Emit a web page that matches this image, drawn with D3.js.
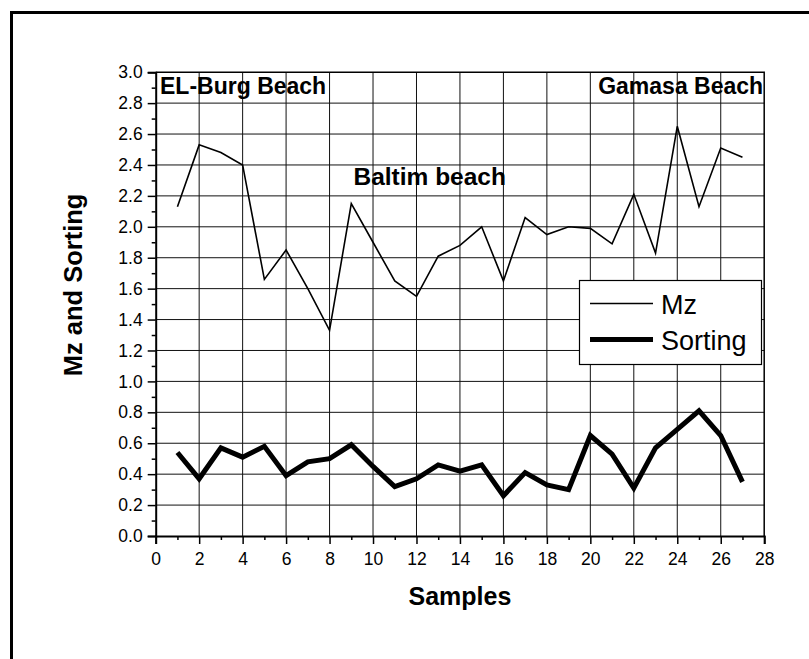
<!DOCTYPE html>
<html>
<head>
<meta charset="utf-8">
<script src="https://cdn.jsdelivr.net/npm/d3@7"></script>
<style>
  html, body { margin: 0; padding: 0; background: #fff; }
  svg { display: block; font-family: "Liberation Sans", Arial, sans-serif; }
</style>
</head>
<body>
<svg id="chart" width="809" height="659"></svg>
<script>
const samples = [1,2,3,4,5,6,7,8,9,10,11,12,13,14,15,16,17,18,19,20,21,22,23,24,25,26,27];
const mz = [2.13,2.53,2.48,2.40,1.66,1.85,1.60,1.33,2.15,1.90,1.65,1.55,1.81,1.88,2.00,1.65,2.06,1.95,2.00,1.99,1.89,2.21,1.83,2.65,2.13,2.51,2.45];
const sorting = [0.54,0.37,0.57,0.51,0.58,0.39,0.48,0.50,0.59,0.45,0.32,0.37,0.46,0.42,0.46,0.26,0.41,0.33,0.30,0.65,0.53,0.31,0.57,0.69,0.81,0.65,0.35];
const xTicks = [0,2,4,6,8,10,12,14,16,18,20,22,24,26,28];
const xMinorTicks = [1,3,5,7,9,11,13,15,17,19,21,23,25,27];
const yTicks = [0,0.2,0.4,0.6,0.8,1.0,1.2,1.4,1.6,1.8,2.0,2.2,2.4,2.6,2.8,3.0];
const yMinorTicks = [0.1,0.3,0.5,0.7,0.9,1.1,1.3,1.5,1.7,1.9,2.1,2.3,2.5,2.7,2.9];
const seriesNames = ["Mz", "Sorting"];
const annotations = [
  {text: "EL-Burg Beach", x: 0.2, y: 2.86, anchor: "start", size: 23},
  {text: "Baltim beach", x: 9.1, y: 2.27, anchor: "start", size: 24.5},
  {text: "Gamasa Beach", x: 27.95, y: 2.86, anchor: "end", size: 23}
];

const svg = d3.select("#chart");
const L = 155.7, R = 764.2, T = 72.2, B = 536;
const x = d3.scaleLinear().domain([0, 28]).range([L, R]);
const y = d3.scaleLinear().domain([0, 3]).range([B, T]);

// outer frame
svg.append("path")
  .attr("d", `M11.5,${659+5} V12.5 H${809+5}`)
  .attr("fill", "none").attr("stroke", "#000").attr("stroke-width", 3);

// grid
const g = svg.append("g");
g.selectAll(".vg").data(xTicks.slice(1, -1)).join("line")
  .attr("x1", d => x(d)).attr("x2", d => x(d)).attr("y1", T).attr("y2", B)
  .attr("stroke", "#111").attr("stroke-width", 1);
g.selectAll(".hg").data(yTicks.slice(1, -1)).join("line")
  .attr("x1", L).attr("x2", R).attr("y1", d => y(d)).attr("y2", d => y(d))
  .attr("stroke", "#111").attr("stroke-width", 1);

// plot frame top/right
svg.append("path")
  .attr("d", `M${L},${T} H${R} V${B}`)
  .attr("fill", "none").attr("stroke", "#000").attr("stroke-width", 1.5);

// axes
const xAxis = d3.axisBottom(x).tickValues(xTicks).tickSize(8).tickPadding(4).tickFormat(d3.format("d"));
const xa = svg.append("g").attr("transform", `translate(0,${B})`).call(xAxis);
xa.selectAll(".tick line").attr("stroke-width", 1.5);
const xm = d3.axisBottom(x).tickValues(xMinorTicks).tickSize(4).tickFormat("");
const xma = svg.append("g").attr("transform", `translate(0,${B})`).call(xm);
xma.select(".domain").remove();
xma.selectAll(".tick line").attr("stroke-width", 1.5);

const yAxis = d3.axisLeft(y).tickValues(yTicks).tickSize(8).tickPadding(5).tickFormat(d3.format(".1f"));
const ya = svg.append("g").attr("transform", `translate(${L},0)`).call(yAxis);
ya.selectAll(".tick line").attr("stroke-width", 1.5);
const ym = d3.axisLeft(y).tickValues(yMinorTicks).tickSize(4).tickFormat("");
const yma = svg.append("g").attr("transform", `translate(${L},0)`).call(ym);
yma.select(".domain").remove();
yma.selectAll(".tick line").attr("stroke-width", 1.5);

[xa, ya].forEach(a => {
  a.select(".domain").attr("stroke-width", 2);
  a.selectAll("text").attr("font-size", 17.5).attr("fill", "#000")
    .attr("font-family", "'Liberation Sans', Arial, sans-serif");
});
xa.selectAll("text").attr("dy", "0.95em");

// lines
const line = d3.line().x((d, i) => x(samples[i])).y(d => y(d));
svg.append("path").datum(mz).attr("d", line)
  .attr("fill", "none").attr("stroke", "#000").attr("stroke-width", 1.6).attr("stroke-linejoin", "miter");
svg.append("path").datum(sorting).attr("d", line)
  .attr("fill", "none").attr("stroke", "#000").attr("stroke-width", 5).attr("stroke-linejoin", "miter");

// annotations
svg.selectAll(".ann").data(annotations).join("text")
  .attr("x", d => x(d.x)).attr("y", d => y(d.y))
  .attr("text-anchor", d => d.anchor)
  .attr("font-size", d => d.size).attr("font-weight", "bold").attr("fill", "#000")
  .text(d => d.text);

// axis titles
svg.append("text").attr("x", (L + R) / 2).attr("y", 605)
  .attr("text-anchor", "middle").attr("font-size", 25).attr("font-weight", "bold")
  .text("Samples");
svg.append("text").attr("transform", "translate(82,285) rotate(-90)")
  .attr("text-anchor", "middle").attr("font-size", 25.5).attr("font-weight", "bold")
  .text("Mz and Sorting");

// legend
const lg = svg.append("g");
lg.append("rect").attr("x", 579.5).attr("y", 280.5).attr("width", 182).attr("height", 84)
  .attr("fill", "#fff").attr("stroke", "#000").attr("stroke-width", 1.2);
const widths = [1.6, 5];
const ly = [303.5, 339.5];
seriesNames.forEach((n, i) => {
  lg.append("line").attr("x1", 590).attr("x2", 653).attr("y1", ly[i]).attr("y2", ly[i])
    .attr("stroke", "#000").attr("stroke-width", widths[i]);
  lg.append("text").attr("x", 661).attr("y", ly[i] + 10)
    .attr("font-size", 27).attr("fill", "#000").text(n);
});
</script>
</body>
</html>
